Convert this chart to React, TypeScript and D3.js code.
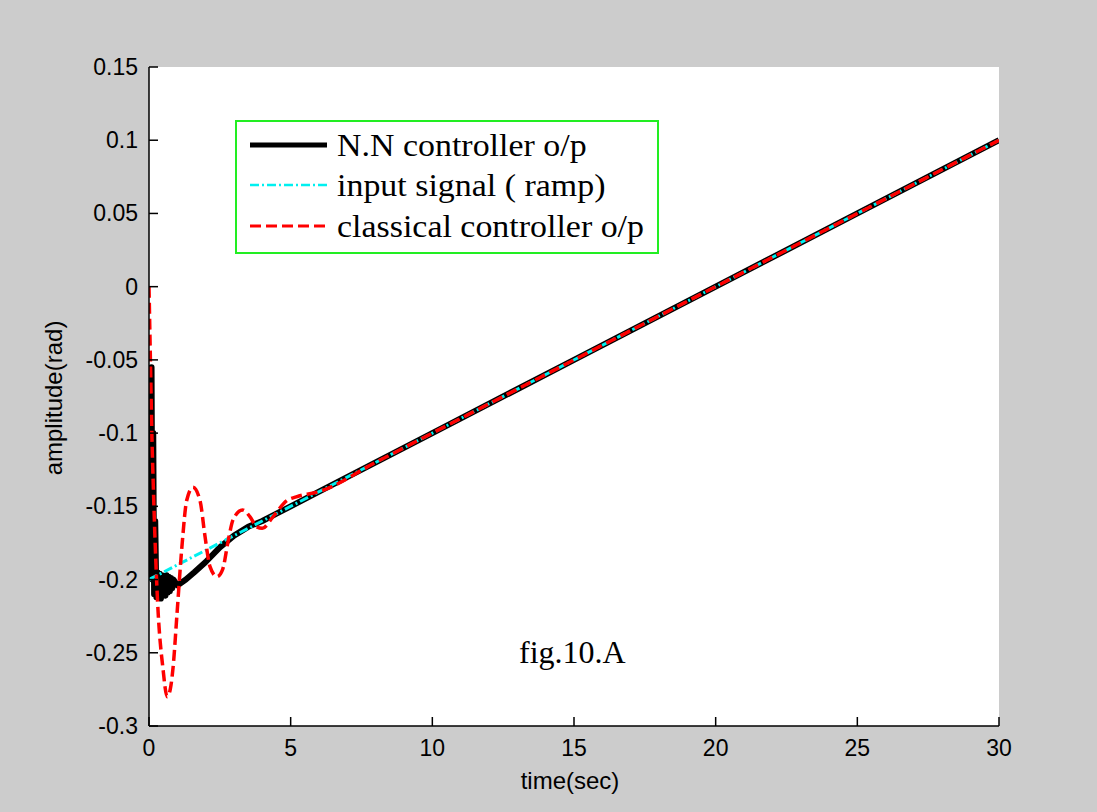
import React from "react";
import * as d3 from "d3";

// ---- data ----
const xTicks = [0, 5, 10, 15, 20, 25, 30];
const yTicks = [-0.3, -0.25, -0.2, -0.15, -0.1, -0.05, 0, 0.05, 0.1, 0.15];
const yTickLabels = ["-0.3", "-0.25", "-0.2", "-0.15", "-0.1", "-0.05", "0", "0.05", "0.1", "0.15"];

const rampT = [0, 30];
const rampV = [-0.2, 0.1];

const nnT = [0, 0.03, 0.06, 0.09, 0.12, 0.15, 0.18, 0.22, 0.26, 0.3, 0.34, 0.38, 0.42, 0.46, 0.5, 0.54, 0.58, 0.62, 0.66, 0.7, 0.74, 0.78, 0.82, 0.86, 1.0, 1.3, 1.6, 2.0, 2.5, 3.0, 3.5, 4.0, 4.5, 5.0, 6, 10, 15, 20, 25, 30];
const nnV = [-0.2, -0.12, -0.19, -0.055, -0.2, -0.1, -0.21, -0.16, -0.212, -0.195, -0.21, -0.196, -0.213, -0.197, -0.21, -0.198, -0.211, -0.197, -0.209, -0.198, -0.208, -0.199, -0.206, -0.2, -0.204, -0.2, -0.195, -0.188, -0.178, -0.17, -0.164, -0.16, -0.155, -0.15, -0.14, -0.1, -0.05, 0, 0.05, 0.1];

const redT = [0, 0.05, 0.1, 0.15, 0.3, 0.5, 0.64, 0.75, 0.85, 0.99, 1.16, 1.33, 1.55, 1.8, 1.98, 2.15, 2.4, 2.6, 2.8, 2.97, 3.3, 3.56, 3.8, 4.0, 4.38, 4.87, 5.2, 6, 8, 10, 15, 20, 25, 30];
const redV = [0, -0.05, -0.1, -0.135, -0.214, -0.262, -0.28, -0.275, -0.26, -0.223, -0.178, -0.146, -0.137, -0.146, -0.171, -0.191, -0.198, -0.193, -0.173, -0.159, -0.1525, -0.157, -0.164, -0.165, -0.157, -0.146, -0.1435, -0.14, -0.12, -0.1, -0.05, 0, 0.05, 0.1];

const legendLabels = ["N.N controller o/p", "input signal ( ramp)", "classical controller o/p"];
const annotation = "fig.10.A";
const xLabel = "time(sec)";
const yLabel = "amplitude(rad)";

export default function App() {
  const W = 1097, H = 812;
  const x = d3.scaleLinear().domain([0, 30]).range([149, 999]);
  const y = d3.scaleLinear().domain([-0.3, 0.15]).range([726, 67]);

  const mk = (ts: number[], vs: number[], curve: any) =>
    d3.line<number>().x((_, i) => x(ts[i])).y((v) => y(v)).curve(curve)(vs) || "";

  const nnPath = mk(nnT, nnV, d3.curveLinear);
  const rampPath = mk(rampT, rampV, d3.curveLinear);
  const redPath = mk(redT, redV, d3.curveMonotoneX);

  const sans = "'Liberation Sans', Arial, sans-serif";
  const serif = "'Liberation Serif', 'Times New Roman', serif";
  const [x0, x1] = x.range();
  const [yb, yt] = y.range();

  const legendY = [145, 185, 226];
  const legendStyles = [
    { stroke: "#000", width: 5, dash: "" },
    { stroke: "#00f0f0", width: 2.5, dash: "9 3 2 3" },
    { stroke: "#ff0000", width: 3, dash: "11 5" },
  ];

  return (
    <svg width={W} height={H} style={{ position: "absolute", left: 0, top: 0, display: "block" }}>
      <defs>
        <clipPath id="clip">
          <rect x={x0} y={yt} width={x1 - x0} height={yb - yt} />
        </clipPath>
      </defs>
      <rect x={0} y={0} width={W} height={H} fill="#cccccc" />
      <rect x={x0} y={yt} width={x1 - x0} height={yb - yt} fill="#ffffff" />

      <g clipPath="url(#clip)">
        <path d={nnPath} fill="none" stroke="#000" strokeWidth={6} strokeLinejoin="round" />
        <path d={rampPath} fill="none" stroke="#00f0f0" strokeWidth={3} strokeDasharray="9 3 2 3" />
        <path d={redPath} fill="none" stroke="#ff0000" strokeWidth={3.5} strokeDasharray="11 5" />
      </g>

      {/* axes */}
      <line x1={x0} x2={x0} y1={yt} y2={yb} stroke="#000" strokeWidth={1.5} />
      <line x1={x0} x2={x1} y1={yb} y2={yb} stroke="#000" strokeWidth={1.5} />
      {xTicks.map((t) => (
        <g key={"xt" + t}>
          <line x1={x(t)} x2={x(t)} y1={yb} y2={yb - 9} stroke="#000" strokeWidth={1.5} />
          <text x={x(t)} y={756} textAnchor="middle" fontFamily={sans} fontSize={23} fill="#000">
            {t}
          </text>
        </g>
      ))}
      {yTicks.map((t, i) => (
        <g key={"yt" + i}>
          <line x1={x0} x2={x0 + 9} y1={y(t)} y2={y(t)} stroke="#000" strokeWidth={1.5} />
          <text x={138} y={y(t) + 8} textAnchor="end" fontFamily={sans} fontSize={23} fill="#000">
            {yTickLabels[i]}
          </text>
        </g>
      ))}
      <text x={570} y={789} textAnchor="middle" fontFamily={sans} fontSize={24} fill="#000">
        {xLabel}
      </text>
      <text transform={`translate(62,398) rotate(-90)`} textAnchor="middle" fontFamily={sans} fontSize={24} fill="#000">
        {yLabel}
      </text>

      {/* legend */}
      <rect x={236} y={121} width={422} height={132} fill="#ffffff" stroke="#22ee22" strokeWidth={2} />
      {legendLabels.map((l, i) => (
        <g key={"lg" + i}>
          <line x1={250} x2={327} y1={legendY[i]} y2={legendY[i]} stroke={legendStyles[i].stroke}
            strokeWidth={legendStyles[i].width} strokeDasharray={legendStyles[i].dash} />
          <text transform={`translate(337,${legendY[i] + 11}) scale(1.06,1)`} fontFamily={serif} fontSize={32} fill="#000">
            {l}
          </text>
        </g>
      ))}

      <text x={519} y={663} fontFamily={serif} fontSize={32} fill="#000">
        {annotation}
      </text>
    </svg>
  );
}
